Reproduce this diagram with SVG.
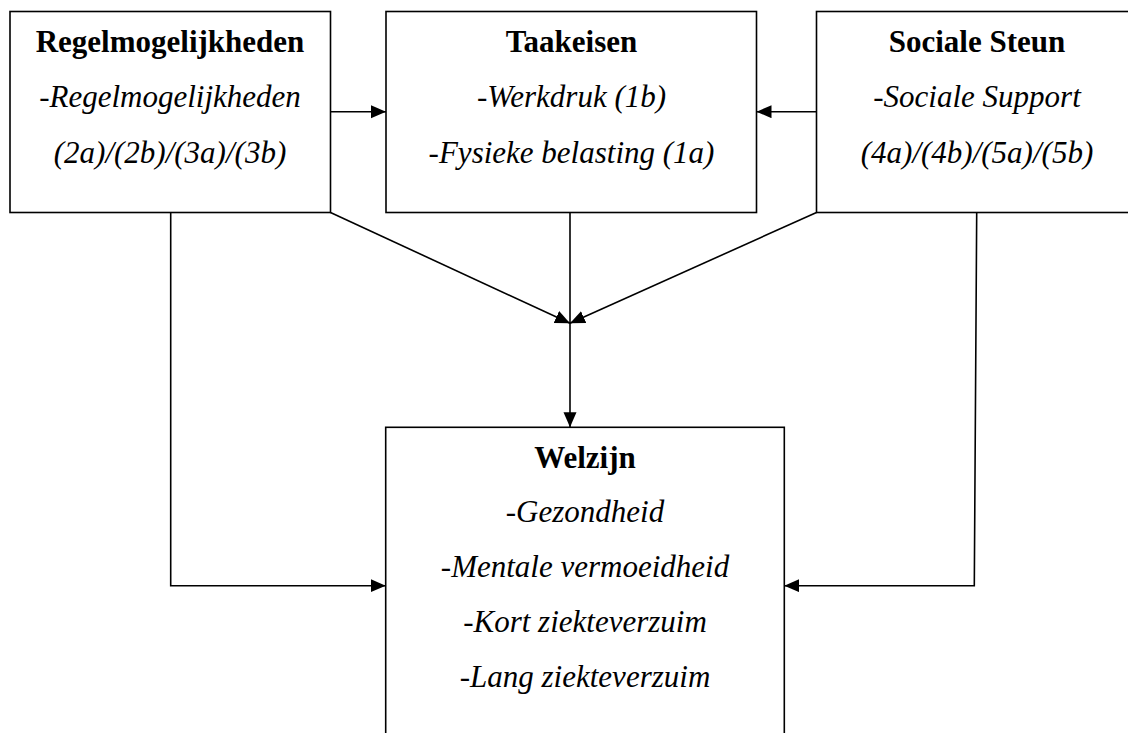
<svg xmlns="http://www.w3.org/2000/svg" width="1128" height="733" viewBox="0 0 1128 733">
<defs>
<marker id="ah" markerUnits="userSpaceOnUse" markerWidth="16" markerHeight="14" refX="15" refY="6.5" orient="auto">
<path d="M0,0 L15,6.5 L0,13 Z" fill="#000"/>
</marker>
</defs>
<rect width="1128" height="733" fill="#fff"/>
<g id="regelmogelijkheden">
<rect x="10" y="11.5" width="320.5" height="201" fill="#fff" stroke="#000" stroke-width="1.6"/>
<text font-family="Tinos, Times New Roman, Liberation Serif, serif" font-size="31" font-weight="bold" text-anchor="middle" x="170" y="52">Regelmogelijkheden</text>
<text font-family="Tinos, Times New Roman, Liberation Serif, serif" font-size="31" font-style="italic" text-anchor="middle" x="170" y="107">-Regelmogelijkheden</text>
<text font-family="Tinos, Times New Roman, Liberation Serif, serif" font-size="31" font-style="italic" text-anchor="middle" x="170" y="163">(2a)/(2b)/(3a)/(3b)</text>
</g>
<g id="taakeisen">
<rect x="386" y="11.5" width="370.5" height="201" fill="#fff" stroke="#000" stroke-width="1.6"/>
<text font-family="Tinos, Times New Roman, Liberation Serif, serif" font-size="31" font-weight="bold" text-anchor="middle" x="571.5" y="52">Taakeisen</text>
<text font-family="Tinos, Times New Roman, Liberation Serif, serif" font-size="31" font-style="italic" text-anchor="middle" x="571.5" y="107">-Werkdruk (1b)</text>
<text font-family="Tinos, Times New Roman, Liberation Serif, serif" font-size="31" font-style="italic" text-anchor="middle" x="571.5" y="163">-Fysieke belasting (1a)</text>
</g>
<g id="sociale-steun">
<rect x="816.5" y="11.5" width="321" height="201" fill="#fff" stroke="#000" stroke-width="1.6"/>
<text font-family="Tinos, Times New Roman, Liberation Serif, serif" font-size="31" font-weight="bold" text-anchor="middle" x="977" y="52">Sociale Steun</text>
<text font-family="Tinos, Times New Roman, Liberation Serif, serif" font-size="31" font-style="italic" text-anchor="middle" x="977" y="107">-Sociale Support</text>
<text font-family="Tinos, Times New Roman, Liberation Serif, serif" font-size="31" font-style="italic" text-anchor="middle" x="977" y="163">(4a)/(4b)/(5a)/(5b)</text>
</g>
<g id="welzijn">
<rect x="385.7" y="427.3" width="398.6" height="320" fill="#fff" stroke="#000" stroke-width="1.6"/>
<text font-family="Tinos, Times New Roman, Liberation Serif, serif" font-size="31" font-weight="bold" text-anchor="middle" x="585" y="468">Welzijn</text>
<text font-family="Tinos, Times New Roman, Liberation Serif, serif" font-size="31" font-style="italic" text-anchor="middle" x="585" y="522">-Gezondheid</text>
<text font-family="Tinos, Times New Roman, Liberation Serif, serif" font-size="31" font-style="italic" text-anchor="middle" x="585" y="577">-Mentale vermoeidheid</text>
<text font-family="Tinos, Times New Roman, Liberation Serif, serif" font-size="31" font-style="italic" text-anchor="middle" x="585" y="632">-Kort ziekteverzuim</text>
<text font-family="Tinos, Times New Roman, Liberation Serif, serif" font-size="31" font-style="italic" text-anchor="middle" x="585" y="687">-Lang ziekteverzuim</text>
</g>
<g id="connectors" fill="none" stroke="#000" stroke-width="1.6">
<line x1="330.5" y1="111.7" x2="386" y2="111.7" marker-end="url(#ah)"/>
<line x1="816.5" y1="111.7" x2="756.5" y2="111.7" marker-end="url(#ah)"/>
<line x1="330.5" y1="212.5" x2="570" y2="323.3" marker-end="url(#ah)"/>
<line x1="816.5" y1="212.5" x2="570" y2="323.3" marker-end="url(#ah)"/>
<line x1="570" y1="212.5" x2="570" y2="427.3" marker-end="url(#ah)"/>
<polyline points="170.7,212.5 170.7,585.7 385.7,585.7" marker-end="url(#ah)"/>
<polyline points="976.7,212.5 974.3,585.7 784.3,585.7" marker-end="url(#ah)"/>
</g>
</svg>
